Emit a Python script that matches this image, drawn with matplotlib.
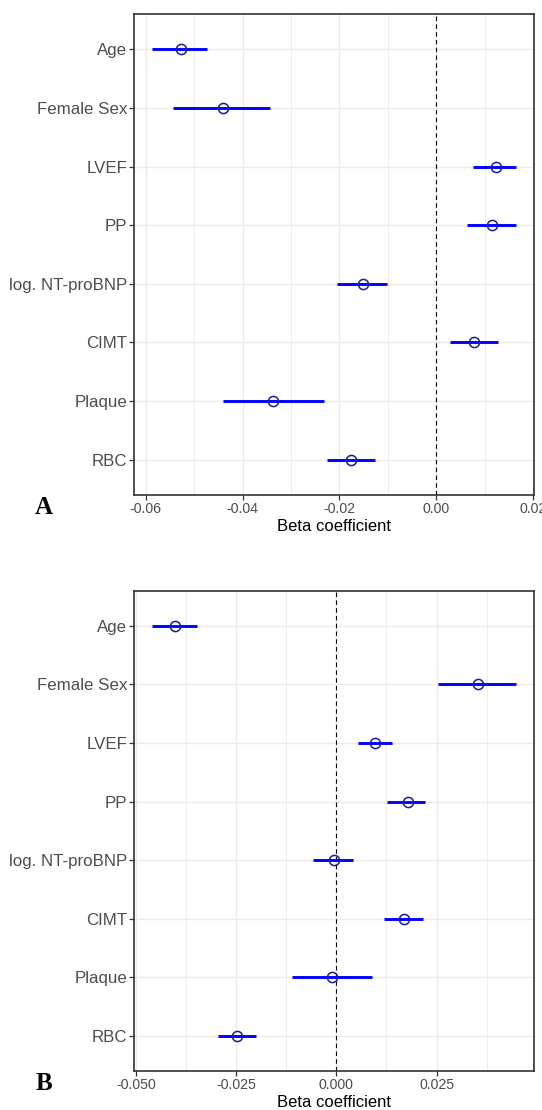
import matplotlib
matplotlib.use("Agg")
import matplotlib.pyplot as plt
from matplotlib.ticker import FixedLocator

# ---------------- data ----------------
categories = ["Age", "Female Sex", "LVEF", "PP", "log. NT-proBNP", "CIMT", "Plaque", "RBC"]

# Panel A
a_est = [-0.0528, -0.0441, 0.0124, 0.0115, -0.0151, 0.0079, -0.0336, -0.0176]
a_lo = [-0.0586, -0.0543, 0.0076, 0.0064, -0.0205, 0.0028, -0.0441, -0.0226]
a_hi = [-0.0474, -0.0343, 0.0164, 0.0164, -0.0101, 0.0128, -0.0232, -0.0126]
a_major = [-0.06, -0.04, -0.02, 0.00, 0.02]
a_major_labels = ["-0.06", "-0.04", "-0.02", "0.00", "0.02"]
a_minor = [-0.05, -0.03, -0.01, 0.01]

# Panel B
b_est = [-0.0403, 0.0353, 0.0096, 0.0178, -0.0006, 0.0168, -0.0011, -0.0249]
b_lo = [-0.0459, 0.0254, 0.0053, 0.0127, -0.0058, 0.0118, -0.0110, -0.0296]
b_hi = [-0.0348, 0.0447, 0.0138, 0.0222, 0.0042, 0.0216, 0.0088, -0.0201]
b_major = [-0.050, -0.025, 0.000, 0.025]
b_major_labels = ["-0.050", "-0.025", "0.000", "0.025"]
b_minor = [-0.0375, -0.0125, 0.0125, 0.0375]

panel_letters = ["A", "B"]
xlabel = "Beta coefficient"

# ---------------- style ----------------
W, H = 542, 1110
fig = plt.figure(figsize=(W / 100, H / 100), dpi=100)
plt.rcParams["font.family"] = ["Liberation Sans", "DejaVu Sans"]

GRID = "#EBEBEB"
FRAME = "#333333"
TXT = "#4D4D4D"


def panel(rect, est, lo, hi, major, major_labels, minor, letter, letter_xy):
    ax = fig.add_axes(rect)
    n = len(categories)
    ypos = [n - i for i in range(n)]
    ax.set_axisbelow(True)
    ax.hlines(ypos, lo, hi, colors="#0000FF", lw=2.1, zorder=3)
    ax.plot(est, ypos, "o", ms=7.3, mfc="none", mec="#1A1A9C", mew=1.1, zorder=4)
    ax.axvline(0, color="black", lw=0.8, linestyle=(0, (4, 3)), zorder=2)

    lo_min, hi_max = min(lo), max(hi)
    pad = 0.05 * (hi_max - lo_min)
    ax.set_xlim(lo_min - pad, hi_max + pad)
    ax.set_ylim(0.4, n + 0.6)

    ax.set_yticks(ypos)
    ax.set_yticklabels(categories)
    ax.set_xticks(major)
    ax.set_xticklabels(major_labels)
    ax.xaxis.set_minor_locator(FixedLocator(minor))

    ax.grid(which="major", color=GRID, lw=1.0)
    ax.grid(which="minor", axis="x", color=GRID, lw=0.6)

    ax.tick_params(which="minor", length=0)
    ax.tick_params(axis="y", which="major", length=3.5, width=0.9, color=FRAME,
                   labelsize=12.2, labelcolor=TXT, pad=1.5)
    ax.tick_params(axis="x", which="major", length=3.5, width=0.9, color=FRAME,
                   labelsize=10.2, labelcolor=TXT, pad=1.5)
    for s in ax.spines.values():
        s.set_color(FRAME)
        s.set_linewidth(1.2)
    ax.set_xlabel(xlabel, fontsize=12, color="black", labelpad=2)
    fig.text(letter_xy[0] / W, 1 - letter_xy[1] / H, letter,
             fontfamily=["Liberation Serif", "DejaVu Serif"], fontweight="bold",
             fontsize=18, ha="center", va="center")
    return ax


left = 134.3 / W
width = (533.7 - 134.3) / W
panel([left, 1 - 495 / H, width, (495 - 14) / H],
      a_est, a_lo, a_hi, a_major, a_major_labels, a_minor, panel_letters[0], (43.5, 508))
panel([left, 1 - 1071 / H, width, (1071 - 590.7) / H],
      b_est, b_lo, b_hi, b_major, b_major_labels, b_minor, panel_letters[1], (43.5, 1083.5))

fig.savefig("out.png", dpi=100)
